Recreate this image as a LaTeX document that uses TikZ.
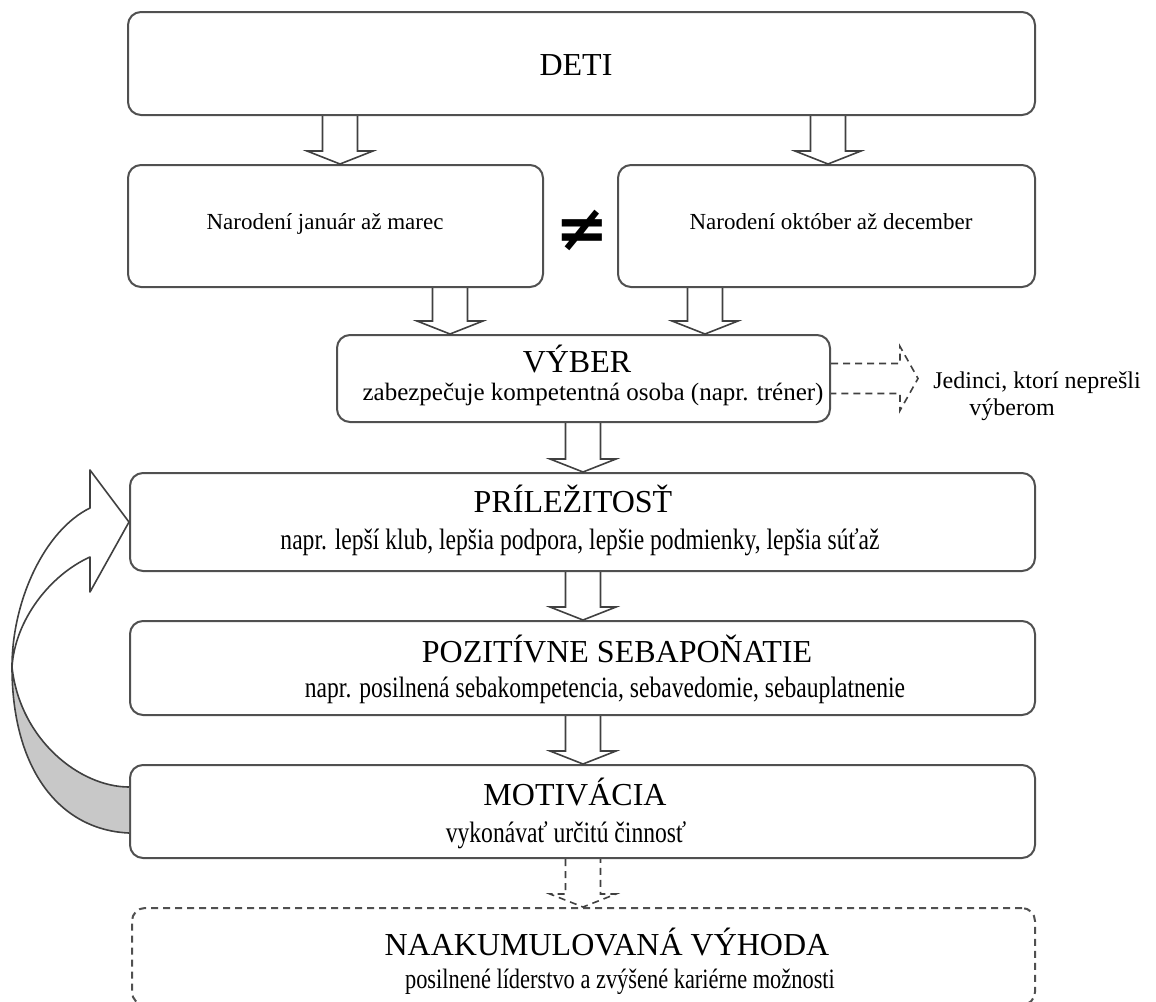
\documentclass[tikz,border=0pt]{standalone}
\usepackage{fontspec}
\setmainfont{Liberation Serif}
\newfontfamily\subf{Liberation Serif}[FakeStretch=0.8]
\newfontfamily\symf{DejaVu Sans}
\usetikzlibrary{calc}
\definecolor{boxgray}{HTML}{505050}
\definecolor{arrgray}{HTML}{404040}
\definecolor{bandgray}{HTML}{C8C8C8}
\tikzset{
  box/.style={draw=boxgray, line width=2pt, rounded corners=13pt, inner sep=0pt},
  dbox/.style={box, dash pattern=on 7pt off 5pt},
  blk/.style={draw=arrgray, line width=1.6pt, line join=miter},
  dblk/.style={blk, dash pattern=on 7pt off 5pt},
  ttl/.style={font=\fontsize{32}{36}\selectfont, anchor=base, inner sep=0pt},
  sub/.style={font=\subf\fontsize{29.5}{32}\selectfont, anchor=base, inner sep=0pt},
  nsub/.style={font=\subf\fontsize{28}{32}\selectfont, anchor=base, inner sep=0pt},
  vsub/.style={font=\fontsize{25}{28}\selectfont, anchor=base, inner sep=0pt},
  jsub/.style={font=\fontsize{24}{28}\selectfont, anchor=base, inner sep=0pt},
  nar/.style={font=\fontsize{23}{26}\selectfont, anchor=base, inner sep=0pt},
}
\newcommand\barrow[4][blk]{%
  \draw[#1] let \p1=(#3.south), \p2=(#4.north) in
    (#2-17.5,\y1) -- (#2-17.5,\y2+13pt) -- (#2-33,\y2+13pt) -- (#2,\y2)
    -- (#2+33,\y2+13pt) -- (#2+17.5,\y2+13pt) -- (#2+17.5,\y1);}
\begin{document}
\begin{tikzpicture}[x=1pt,y=-1pt]
\useasboundingbox (0,0) rectangle (1156,1001);
\clip (0,0) rectangle (1156,1001);
% boxes
\node[box, minimum width=907pt, minimum height=103pt] (deti) at (581.5,63.5) {};
\node[box, minimum width=415pt, minimum height=122pt] (jan) at (335.5,226) {};
\node[box, minimum width=417pt, minimum height=122pt] (okt) at (826.5,226) {};
\node[box, minimum width=493pt, minimum height=87pt] (vyb) at (583.5,378.5) {};
\node[box, minimum width=905pt, minimum height=98pt] (pril) at (582.5,522) {};
\node[box, minimum width=905pt, minimum height=94pt] (poz) at (582.5,668) {};
\node[box, minimum width=905pt, minimum height=93pt] (mot) at (582.5,811.5) {};
\node[dbox, minimum width=903pt, minimum height=97pt] (naak) at (583.5,956.5) {};
% texts
\node[ttl] (deti-t) at (576,75) {DETI};
\node[nar] (jan-t) at (325,229) {Narodení január až marec};
\node[nar] (okt-t) at (831,229) {Narodení október až december};
\node[font=\symf\bfseries\fontsize{64}{64}\selectfont, inner sep=0pt] (neq) at (582,230) {≠};
\node[ttl] (vyb-t) at (577,372) {VÝBER};
\node[vsub] (vyb-s) at (593,400) {zabezpečuje kompetentná osoba (napr. tréner)};
\node[ttl] (pril-t) at (573,512) {PRÍLEŽITOSŤ};
\node[sub] (pril-s) at (580,549) {napr. lepší klub, lepšia podpora, lepšie podmienky, lepšia súťaž};
\node[ttl] (poz-t) at (617,662) {POZITÍVNE SEBAPOŇATIE};
\node[sub] (poz-s) at (605,697) {napr. posilnená sebakompetencia, sebavedomie, sebauplatnenie};
\node[ttl] (mot-t) at (575,805) {MOTIVÁCIA};
\node[sub] (mot-s) at (566,842) {vykonávať určitú činnosť};
\node[ttl] (naak-t) at (607,955) {NAAKUMULOVANÁ VÝHODA};
\node[nsub] (naak-s) at (620,988) {posilnené líderstvo a zvýšené kariérne možnosti};
\node[jsub] (jed1) at (1037,388) {Jedinci, ktorí neprešli};
\node[jsub] (jed2) at (1012,415) {výberom};
% block arrows
\barrow{340}{deti}{jan}
\barrow{828}{deti}{okt}
\barrow{450}{jan}{vyb}
\barrow{705}{okt}{vyb}
\barrow{583}{vyb}{pril}
\barrow{583}{pril}{poz}
\barrow{583}{poz}{mot}
\barrow[dblk]{583}{mot}{naak}
% dashed arrow to the right
\coordinate (jedtip) at (918,378.5);
\draw[dblk] ($(vyb.east)+(0,-15)$) -- (900,363.5) -- (900,346.5) -- (jedtip)
  -- (900,410.5) -- (900,393.5) -- ($(vyb.east)+(0,15)$);
% curved feedback arrow
\coordinate (cl) at (12,667);
\fill[bandgray] ($(mot.west)+(0,21.5)$) .. controls (60,830) and (12,770) .. (cl)
  .. controls (20,740) and (80,787) .. ($(mot.west)+(0,-24.5)$) -- cycle;
\draw[blk, line join=round] ($(mot.west)+(0,-24.5)$) .. controls (80,787) and (20,740) .. (cl)
  .. controls (12,770) and (60,830) .. ($(mot.west)+(0,21.5)$);
\draw[blk, fill=white, line join=round] (cl) .. controls (12,600) and (45,530) .. (90,508)
  -- (90,470) -- (pril.west) -- (90,592) -- (90,557)
  .. controls (50,575) and (15,620) .. (cl) -- cycle;
\end{tikzpicture}
\end{document}
